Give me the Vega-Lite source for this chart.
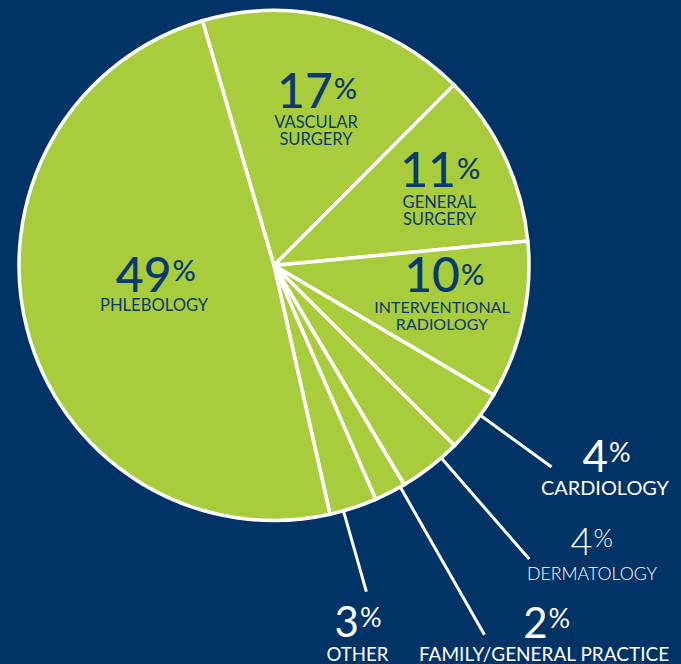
{
  "$schema": "https://vega.github.io/schema/vega-lite/v6.json",
  "width": 548,
  "height": 531,
  "autosize": {"type": "none"},
  "padding": {"left": 0, "top": 0, "right": 133, "bottom": 133},
  "background": "#003466",
  "config": {"view": {"stroke": null}, "text": {"font": "Lato"}},
  "data": {
    "values": [
      {"k": "vasc", "name": "VASCULAR|SURGERY", "value": 17, "ord": 1},
      {"k": "gen", "name": "GENERAL|SURGERY", "value": 11, "ord": 2},
      {"k": "int", "name": "INTERVENTIONAL|RADIOLOGY", "value": 10, "ord": 3},
      {"k": "card", "name": "CARDIOLOGY", "value": 4, "ord": 4},
      {"k": "derm", "name": "DERMATOLOGY", "value": 4, "ord": 5},
      {"k": "fam", "name": "FAMILY/GENERAL PRACTICE", "value": 2, "ord": 6},
      {"k": "oth", "name": "OTHER", "value": 3, "ord": 7},
      {"k": "phl", "name": "PHLEBOLOGY", "value": 49, "ord": 8}
    ]
  },
  "encoding": {
    "theta": {"field": "value", "type": "quantitative", "stack": true, "scale": {"range": [-0.2845, 5.9987]}},
    "order": {"field": "ord", "type": "quantitative"},
    "detail": {"field": "k", "type": "nominal"}
  },
  "layer": [
    {"mark": {"type": "arc", "outerRadius": 255, "color": "#a8cc3c", "stroke": "#ffffff", "strokeWidth": 3.5}},
    {"mark": {"type": "arc", "innerRadius": 255, "outerRadius": 343, "padAngle": 0.6, "thetaOffset": -0.03, "theta2Offset": -0.03, "fillOpacity": 0, "stroke": "#ffffff", "strokeWidth": 3},
     "encoding": {"strokeOpacity": {"condition": {"test": "datum.k === 'card'", "value": 1}, "value": 0}}},
    {"mark": {"type": "arc", "innerRadius": 255, "outerRadius": 389, "padAngle": 0.6, "thetaOffset": -0.054, "theta2Offset": -0.054, "fillOpacity": 0, "stroke": "#ffffff", "strokeWidth": 3},
     "encoding": {"strokeOpacity": {"condition": {"test": "datum.k === 'derm'", "value": 1}, "value": 0}}},
    {"mark": {"type": "arc", "innerRadius": 255, "outerRadius": 425, "padAngle": 0.6, "thetaOffset": -0.045, "theta2Offset": -0.045, "fillOpacity": 0, "stroke": "#ffffff", "strokeWidth": 3},
     "encoding": {"strokeOpacity": {"condition": {"test": "datum.k === 'fam'", "value": 1}, "value": 0}}},
    {"mark": {"type": "arc", "innerRadius": 255, "outerRadius": 339, "padAngle": 0.6, "thetaOffset": 0.04, "theta2Offset": 0.04, "fillOpacity": 0, "stroke": "#ffffff", "strokeWidth": 3},
     "encoding": {"strokeOpacity": {"condition": {"test": "datum.k === 'oth'", "value": 1}, "value": 0}}},

    {"mark": {"type": "text", "radius": 165, "align": "right", "baseline": "alphabetic", "dx": 18, "dy": 2.4, "fontSize": 48, "fontWeight": 500, "color": "#0b3a70"},
     "encoding": {"text": {"condition": {"test": "datum.k === 'vasc'", "field": "value", "type": "quantitative"}, "value": ""}}},
    {"mark": {"type": "text", "radius": 165, "align": "left", "baseline": "alphabetic", "dx": 19, "dy": -6.6, "fontSize": 29, "fontWeight": 500, "color": "#0b3a70"},
     "encoding": {"text": {"condition": {"test": "datum.k === 'vasc'", "value": "%"}, "value": ""}}},
    {"mark": {"type": "text", "radius": 165, "align": "center", "baseline": "alphabetic", "dx": 1.2, "dy": 22.4, "fontSize": 16.5, "lineBreak": "|", "lineHeight": 16.5, "color": "#0b3a70"},
     "encoding": {"text": {"condition": {"test": "datum.k === 'vasc'", "field": "name"}, "value": ""}}},

    {"mark": {"type": "text", "radius": 185, "align": "right", "baseline": "alphabetic", "dx": 14.7, "dy": 0.6, "fontSize": 48, "fontWeight": 500, "color": "#0b3a70"},
     "encoding": {"text": {"condition": {"test": "datum.k === 'gen'", "field": "value", "type": "quantitative"}, "value": ""}}},
    {"mark": {"type": "text", "radius": 185, "align": "left", "baseline": "alphabetic", "dx": 15.7, "dy": -7.4, "fontSize": 29, "fontWeight": 500, "color": "#0b3a70"},
     "encoding": {"text": {"condition": {"test": "datum.k === 'gen'", "value": "%"}, "value": ""}}},
    {"mark": {"type": "text", "radius": 185, "align": "center", "baseline": "alphabetic", "dx": -1.8, "dy": 21.6, "fontSize": 16.5, "lineBreak": "|", "lineHeight": 16.5, "color": "#0b3a70"},
     "encoding": {"text": {"condition": {"test": "datum.k === 'gen'", "field": "name"}, "value": ""}}},

    {"mark": {"type": "text", "radius": 170, "align": "right", "baseline": "alphabetic", "dx": 20, "dy": -10.3, "fontSize": 48, "fontWeight": 500, "color": "#0b3a70"},
     "encoding": {"text": {"condition": {"test": "datum.k === 'int'", "field": "value", "type": "quantitative"}, "value": ""}}},
    {"mark": {"type": "text", "radius": 170, "align": "left", "baseline": "alphabetic", "dx": 21, "dy": -17.3, "fontSize": 29, "fontWeight": 500, "color": "#0b3a70"},
     "encoding": {"text": {"condition": {"test": "datum.k === 'int'", "value": "%"}, "value": ""}}},
    {"mark": {"type": "text", "radius": 170, "align": "center", "baseline": "alphabetic", "dx": 2, "dy": 10.7, "fontSize": 16, "lineBreak": "|", "lineHeight": 17, "color": "#0b3a70"},
     "encoding": {"text": {"condition": {"test": "datum.k === 'int'", "field": "name"}, "value": ""}}},

    {"mark": {"type": "text", "radius": 120, "align": "right", "baseline": "alphabetic", "dx": 13.7, "dy": -3.5, "fontSize": 48, "fontWeight": 500, "color": "#0b3a70"},
     "encoding": {"text": {"condition": {"test": "datum.k === 'phl'", "field": "value", "type": "quantitative"}, "value": ""}}},
    {"mark": {"type": "text", "radius": 120, "align": "left", "baseline": "alphabetic", "dx": 14.7, "dy": -14.5, "fontSize": 29, "fontWeight": 500, "color": "#0b3a70"},
     "encoding": {"text": {"condition": {"test": "datum.k === 'phl'", "value": "%"}, "value": ""}}},
    {"mark": {"type": "text", "radius": 120, "align": "center", "baseline": "alphabetic", "dx": -3.8, "dy": 15.5, "fontSize": 16.6, "color": "#0b3a70"},
     "encoding": {"text": {"condition": {"test": "datum.k === 'phl'", "field": "name"}, "value": ""}}},

    {"mark": {"type": "text", "radius": 390, "align": "right", "baseline": "alphabetic", "dx": 25.4, "dy": -32, "fontSize": 44, "color": "#ffffff"},
     "encoding": {"text": {"condition": {"test": "datum.k === 'card'", "field": "value", "type": "quantitative"}, "value": ""}}},
    {"mark": {"type": "text", "radius": 390, "align": "left", "baseline": "alphabetic", "dx": 26.4, "dy": -42, "fontSize": 27, "color": "#ffffff"},
     "encoding": {"text": {"condition": {"test": "datum.k === 'card'", "value": "%"}, "value": ""}}},
    {"mark": {"type": "text", "radius": 390, "align": "center", "baseline": "alphabetic", "dx": 22.4, "dy": -9, "fontSize": 19.9, "color": "#ffffff"},
     "encoding": {"text": {"condition": {"test": "datum.k === 'card'", "field": "name"}, "value": ""}}},

    {"mark": {"type": "text", "radius": 430, "align": "right", "baseline": "alphabetic", "dx": 54.4, "dy": -49.8, "fontSize": 38, "fontWeight": 300, "color": "#ffffff"},
     "encoding": {"text": {"condition": {"test": "datum.k === 'derm'", "field": "value", "type": "quantitative"}, "value": ""}}},
    {"mark": {"type": "text", "radius": 430, "align": "left", "baseline": "alphabetic", "dx": 55.4, "dy": -57.8, "fontSize": 25, "fontWeight": 300, "color": "#ffffff"},
     "encoding": {"text": {"condition": {"test": "datum.k === 'derm'", "value": "%"}, "value": ""}}},
    {"mark": {"type": "text", "radius": 430, "align": "center", "baseline": "alphabetic", "dx": 53.9, "dy": -24.8, "fontSize": 17.7, "fontWeight": 300, "color": "#ffffff"},
     "encoding": {"text": {"condition": {"test": "datum.k === 'derm'", "field": "name"}, "value": ""}}},

    {"mark": {"type": "text", "radius": 460, "align": "right", "baseline": "alphabetic", "dx": 64, "dy": -37, "fontSize": 42, "color": "#ffffff"},
     "encoding": {"text": {"condition": {"test": "datum.k === 'fam'", "field": "value", "type": "quantitative"}, "value": ""}}},
    {"mark": {"type": "text", "radius": 460, "align": "left", "baseline": "alphabetic", "dx": 65, "dy": -47, "fontSize": 27, "color": "#ffffff"},
     "encoding": {"text": {"condition": {"test": "datum.k === 'fam'", "value": "%"}, "value": ""}}},
    {"mark": {"type": "text", "radius": 460, "align": "center", "baseline": "alphabetic", "dx": 60.5, "dy": -14, "fontSize": 19, "color": "#ffffff"},
     "encoding": {"text": {"condition": {"test": "datum.k === 'fam'", "field": "name"}, "value": ""}}},

    {"mark": {"type": "text", "radius": 380, "align": "right", "baseline": "alphabetic", "dx": -33.1, "dy": 10.3, "fontSize": 42, "color": "#ffffff"},
     "encoding": {"text": {"condition": {"test": "datum.k === 'oth'", "field": "value", "type": "quantitative"}, "value": ""}}},
    {"mark": {"type": "text", "radius": 380, "align": "left", "baseline": "alphabetic", "dx": -32.1, "dy": 0.3, "fontSize": 27, "color": "#ffffff"},
     "encoding": {"text": {"condition": {"test": "datum.k === 'oth'", "value": "%"}, "value": ""}}},
    {"mark": {"type": "text", "radius": 380, "align": "center", "baseline": "alphabetic", "dx": -34.6, "dy": 34.3, "fontSize": 18.6, "color": "#ffffff"},
     "encoding": {"text": {"condition": {"test": "datum.k === 'oth'", "field": "name"}, "value": ""}}}
  ]
}
